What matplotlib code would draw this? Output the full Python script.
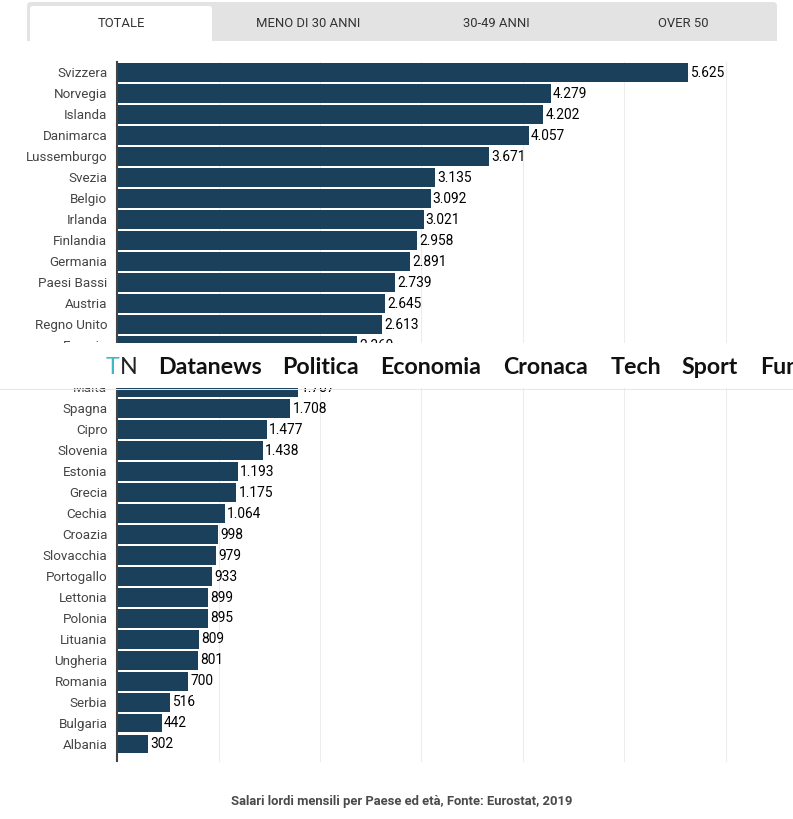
import matplotlib
matplotlib.use("Agg")
import matplotlib.pyplot as plt
from matplotlib.patches import Rectangle, FancyBboxPatch

plt.rcParams['font.family'] = ['Roboto', 'DejaVu Sans']

paesi = ["Svizzera", "Norvegia", "Islanda", "Danimarca", "Lussemburgo", "Svezia", "Belgio",
         "Irlanda", "Finlandia", "Germania", "Paesi Bassi", "Austria", "Regno Unito", "Francia",
         "Italia", "Malta", "Spagna", "Cipro", "Slovenia", "Estonia", "Grecia", "Cechia",
         "Croazia", "Slovacchia", "Portogallo", "Lettonia", "Polonia", "Lituania", "Ungheria",
         "Romania", "Serbia", "Bulgaria", "Albania"]
salari = [5625, 4279, 4202, 4057, 3671, 3135, 3092, 3021, 2958, 2891, 2739, 2645, 2613, 2369,
          2033, 1787, 1708, 1477, 1438, 1193, 1175, 1064, 998, 979, 933, 899, 895, 809, 801,
          700, 516, 442, 302]
griglia = [1000, 2000, 3000, 4000, 5000, 6000]
tab_nomi = ["TOTALE", "MENO DI 30 ANNI", "30-49 ANNI", "OVER 50"]
tab_centri = [121, 308, 496, 683]
menu_nomi = ["Datanews", "Politica", "Economia", "Cronaca", "Tech", "Sport", "Fun"]
menu_x = [158, 282, 380, 503, 611, 681, 760]

W, H = 793, 820
fig = plt.figure(figsize=(W / 100, H / 100), dpi=100, facecolor="white")

# sfondo in coordinate pixel per tab, menu e nota
bg = fig.add_axes([0, 0, 1, 1])
bg.set_xlim(0, W)
bg.set_ylim(H, 0)
bg.axis("off")

bg.add_patch(FancyBboxPatch((27, 3), 750, 39, boxstyle="round,pad=0,rounding_size=4",
                            fc="#e3e3e3", ec="none"))
bg.add_patch(Rectangle((27, 38), 750, 4, fc="#e3e3e3", ec="none"))
bg.add_patch(FancyBboxPatch((30, 7), 182, 35, boxstyle="round,pad=0,rounding_size=3",
                            fc="white", ec="none"))
bg.add_patch(Rectangle((30, 30), 182, 12, fc="white", ec="none"))
for nome, cx in zip(tab_nomi, tab_centri):
    bg.text(cx, 23.5, nome, ha="center", va="center", fontsize=9.4, color="#333333")

bg.text(402, 801.5, "Salari lordi mensili per Paese ed età, Fonte: Eurostat, 2019",
        ha="center", va="center", fontsize=9.35, fontweight="bold", color="#4a4a4a")

# grafico a barre
ax = fig.add_axes([117.2 / W, 1 - 762 / H, (725.6 - 117.2) / W, (762 - 63) / H])
pos = list(range(len(paesi)))
ax.barh(pos, salari, height=0.9, color="#1a405c", zorder=2)
ax.set_xlim(0, 6000)
ax.set_ylim(32.81, -0.52)
ax.patch.set_alpha(0)
ax.set_xticks(griglia)
ax.tick_params(axis="x", length=0, labelbottom=False)
ax.tick_params(axis="y", length=0, pad=7)
ax.set_yticks(pos)
ax.set_yticklabels(paesi, fontsize=9.6, color="#444444", va="center")
ax.grid(axis="x", color="#ececec", linewidth=0.75, zorder=0, clip_on=False)
for lato in ["top", "right", "bottom"]:
    ax.spines[lato].set_visible(False)
ax.spines["left"].set_color("#444444")
ax.spines["left"].set_linewidth(1.5)

for p, v in zip(pos, salari):
    testo = f"{v:,}".replace(",", ".")
    ax.annotate(testo, (v, p), xytext=(1.5, 0.5), textcoords="offset points",
                va="center", ha="left", fontsize=9.9, color="black", zorder=3)

# barra di navigazione sopra il grafico
nav = fig.add_axes([0, 0, 1, 1])
nav.set_xlim(0, W)
nav.set_ylim(H, 0)
nav.axis("off")
nav.add_patch(Rectangle((0, 344), W, 45, fc="white", ec="none"))
nav.plot([0, W], [389.5, 389.5], color="#e8e8e8", linewidth=0.75)
nav.text(105.5, 368, "T", color="#3fb8c6", fontsize=16.7, fontfamily="Lato", va="center")
nav.text(120, 368, "N", color="#222222", fontsize=16.7, fontfamily="Lato", va="center")
for nome, x in zip(menu_nomi, menu_x):
    nav.text(x, 368, nome, color="#111111", fontsize=16.7, fontfamily="Lato", fontweight="bold",
             va="center", clip_on=True)

fig.savefig("out.png", dpi=100)
